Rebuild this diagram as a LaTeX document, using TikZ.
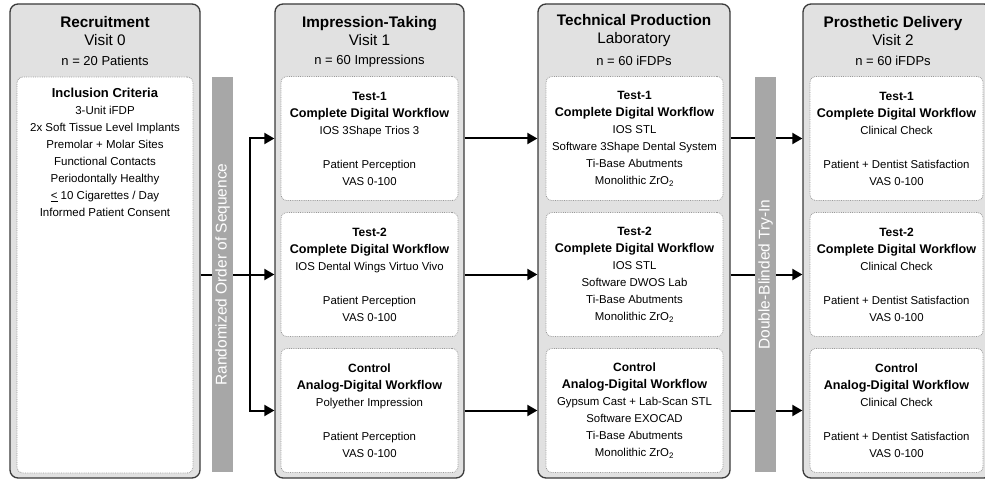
\documentclass[tikz,border=0pt]{standalone}
\usepackage{fontspec}
\setmainfont{Liberation Sans}
\usetikzlibrary{arrows.meta,positioning}

\definecolor{panelgray}{HTML}{E1E1E1}
\definecolor{edgegray}{HTML}{3A3A3A}
\definecolor{bargray}{HTML}{A7A7A7}

\newcommand{\arm}[1]{{\fontsize{12}{17}\selectfont\textbf{#1}}}
\newcommand{\workflow}[1]{{\fontsize{12.6}{17}\selectfont\textbf{#1}}}

\tikzset{
  panel/.style={draw=edgegray, line width=1.3pt, fill=panelgray, rounded corners=8pt, minimum height=474},
  card/.style={draw=gray!80, densely dotted, line width=0.8pt, fill=white, rounded corners=6pt,
    minimum height=124, align=center, font=\fontsize{11.4}{17}\selectfont},
  head/.style={align=center, font=\fontsize{15.3}{18}\selectfont},
  count/.style={font=\fontsize{13}{14}\selectfont},
  bar/.style={fill=bargray, text=white, minimum height=21, minimum width=395, rotate=90,
    font=\fontsize{15.5}{16}\selectfont},
  flow/.style={line width=2pt, -{Triangle[length=10pt,width=11pt]}},
  link/.style={line width=2pt}
}

\begin{document}
\begin{tikzpicture}[x=1pt,y=-1pt]
\useasboundingbox (0,0) rectangle (985,481);

% columns
\node[panel, minimum width=190] (recruit) at (105,241) {};
\node[panel, minimum width=189] (impcol) at (369.5,241) {};
\node[panel, minimum width=192] (labcol) at (634,241) {};
\node[panel, minimum width=189] (delcol) at (897.5,241) {};

\node[head] (h0) at (105,31) {\textbf{Recruitment}\\Visit 0};
\node[count] (n0) at (105,61) {n = 20 Patients};
\node[head] (h1) at (369.5,31) {\textbf{Impression-Taking}\\Visit 1};
\node[count] (n1) at (369.5,61) {n = 60 Impressions};
\node[head] (h2) at (634,31) {\textbf{Technical Production}\\Laboratory};
\node[count] (n2) at (634,61) {n = 60 iFDPs};
\node[head] (h3) at (893,31) {\textbf{Prosthetic Delivery}\\Visit 2};
\node[count] (n3) at (893,61) {n = 60 iFDPs};

% recruitment
\node[card, minimum width=176, minimum height=396] (incl) at (105,275) {};
\node[anchor=north, align=center, font=\fontsize{11.5}{17}\selectfont] (crit) at ([yshift=-8pt]incl.north)
  {{\fontsize{13}{17}\selectfont\textbf{Inclusion Criteria}}\\3-Unit iFDP\\2x Soft Tissue Level Implants\\
   Premolar + Molar Sites\\Functional Contacts\\Periodontally Healthy\\
   \underline{<} 10 Cigarettes / Day\\Informed Patient Consent};

% impression-taking
\node[card, minimum width=177] (imp1) at (369.5,138.5)
  {\arm{Test-1}\\\workflow{Complete Digital Workflow}\\IOS 3Shape Trios 3\\[17pt]Patient Perception\\VAS 0-100};
\node[card, minimum width=177] (imp2) at (369.5,274.5)
  {\arm{Test-2}\\\workflow{Complete Digital Workflow}\\IOS Dental Wings Virtuo Vivo\\[17pt]Patient Perception\\VAS 0-100};
\node[card, minimum width=177] (imp3) at (369.5,410.5)
  {\arm{Control}\\\workflow{Analog-Digital Workflow}\\Polyether Impression\\[17pt]Patient Perception\\VAS 0-100};

% laboratory
\node[card, minimum width=177] (lab1) at (634.5,138.5)
  {\arm{Test-1}\\\workflow{Complete Digital Workflow}\\IOS STL\\Software 3Shape Dental System\\Ti-Base Abutments\\Monolithic ZrO\textsubscript{2}};
\node[card, minimum width=177] (lab2) at (634.5,274.5)
  {\arm{Test-2}\\\workflow{Complete Digital Workflow}\\IOS STL\\Software DWOS Lab\\Ti-Base Abutments\\Monolithic ZrO\textsubscript{2}};
\node[card, minimum width=177] (lab3) at (634.5,410.5)
  {\arm{Control}\\\workflow{Analog-Digital Workflow}\\Gypsum Cast + Lab-Scan STL\\Software EXOCAD\\Ti-Base Abutments\\Monolithic ZrO\textsubscript{2}};

% delivery
\node[card, minimum width=173] (del1) at (896.5,138.5)
  {\arm{Test-1}\\\workflow{Complete Digital Workflow}\\Clinical Check\\[17pt]Patient + Dentist Satisfaction\\VAS 0-100};
\node[card, minimum width=173] (del2) at (896.5,274.5)
  {\arm{Test-2}\\\workflow{Complete Digital Workflow}\\Clinical Check\\[17pt]Patient + Dentist Satisfaction\\VAS 0-100};
\node[card, minimum width=173] (del3) at (896.5,410.5)
  {\arm{Control}\\\workflow{Analog-Digital Workflow}\\Clinical Check\\[17pt]Patient + Dentist Satisfaction\\VAS 0-100};

% connectors
\coordinate (split) at (250,274.5);
\draw[link] (split -| recruit.east) -- (split);
\draw[flow] (split) |- (imp1.west -| impcol.west);
\draw[flow] (split) -- (imp2.west -| impcol.west);
\draw[flow] (split) |- (imp3.west -| impcol.west);
\foreach \i in {1,2,3} {
  \draw[flow] (imp\i.east -| impcol.east) -- (lab\i.west -| labcol.west);
  \draw[flow] (lab\i.east -| labcol.east) -- (del\i.west -| delcol.west);
}

% bars on top
\node[bar] (random) at (222.5,274.5) {Randomized Order of Sequence};
\node[bar] (blind) at (765.5,274.5) {Double-Blinded Try-In};
\end{tikzpicture}
\end{document}
